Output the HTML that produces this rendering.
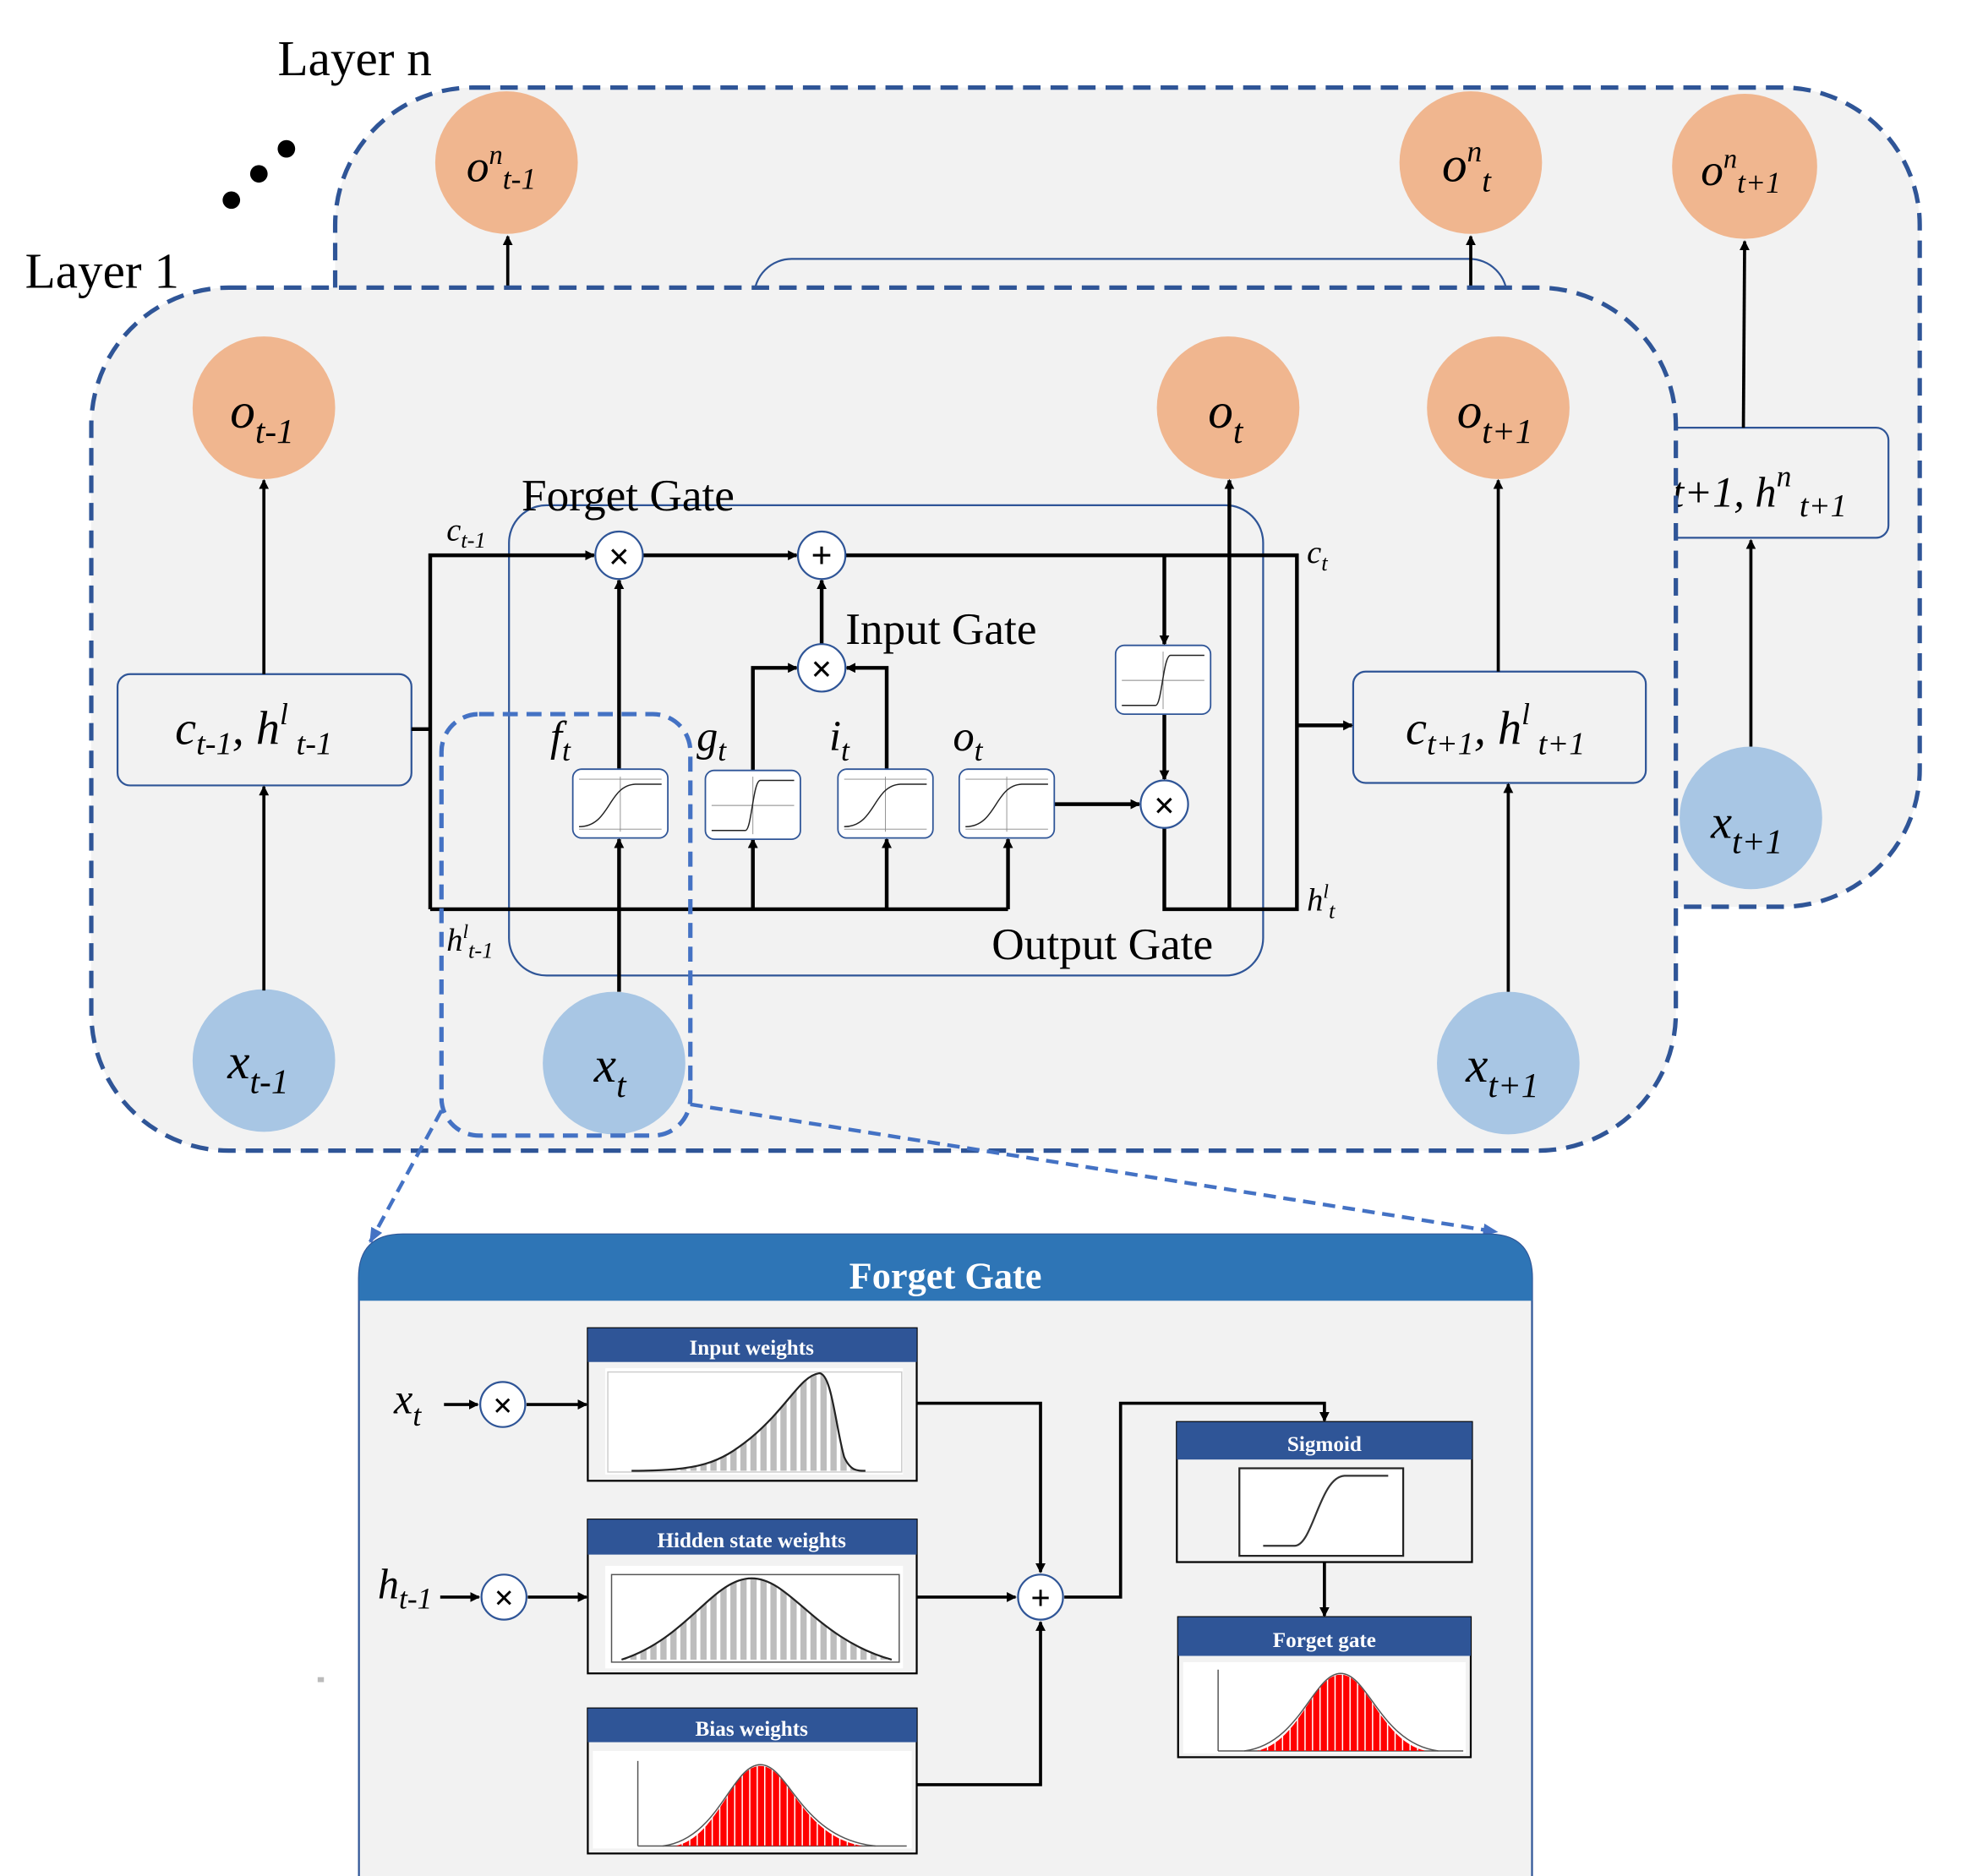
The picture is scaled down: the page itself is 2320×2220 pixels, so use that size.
<!DOCTYPE html>
<html><head><meta charset="utf-8"><style>
html,body{margin:0;padding:0;background:#fff;}
svg{display:block;}
text{font-family:"Liberation Serif",serif;}
.it{font-style:italic;}
</style></head><body>
<svg width="2320" height="2220" viewBox="0 0 1568 1500" preserveAspectRatio="none" xmlns="http://www.w3.org/2000/svg">
<defs>
<marker id="ar" markerWidth="8" markerHeight="8" refX="7" refY="4" orient="auto" markerUnits="userSpaceOnUse"><path d="M0,0 L8,4 L0,8 z" fill="#000"/></marker>
<marker id="arb" markerWidth="12" markerHeight="10" refX="11" refY="5" orient="auto" markerUnits="userSpaceOnUse"><path d="M0,0 L12,5 L0,10 z" fill="#4472c4"/></marker>
<pattern id="gbar" width="8" height="10" patternUnits="userSpaceOnUse"><rect width="5" height="10" fill="#bdbdbd"/></pattern>
<pattern id="rbar" width="6" height="10" patternUnits="userSpaceOnUse"><rect width="5" height="10" fill="#ff0000"/></pattern>
<g id="sig">
<rect x="0" y="0" width="76" height="55" rx="7" fill="#fff" stroke="#2f5597" stroke-width="1.2"/>
<line x1="5" y1="8" x2="71" y2="8" stroke="#888" stroke-width="0.6"/>
<line x1="5" y1="48" x2="71" y2="48" stroke="#888" stroke-width="0.6"/>
<line x1="38" y1="6" x2="38" y2="50" stroke="#888" stroke-width="0.6"/>
<path d="M5,46 C30,46 28,13 50,12 L71,12" fill="none" stroke="#222" stroke-width="1"/>
</g>
<g id="tanh">
<rect x="0" y="0" width="76" height="55" rx="7" fill="#fff" stroke="#2f5597" stroke-width="1.2"/>
<line x1="5" y1="28" x2="71" y2="28" stroke="#888" stroke-width="0.6"/>
<line x1="38" y1="5" x2="38" y2="51" stroke="#888" stroke-width="0.6"/>
<path d="M5,48 L32,48 C37,48 38,8 44,8 L71,8" fill="none" stroke="#222" stroke-width="1"/>
</g>
</defs>

<!-- Layer n -->
<text x="222" y="60" font-size="40">Layer n</text>
<circle cx="185" cy="160" r="7"/><circle cx="207" cy="139" r="7"/><circle cx="229" cy="119" r="7"/>
<rect x="268" y="70" width="1267" height="655" rx="110" fill="#f2f2f2" stroke="#2f5597" stroke-width="3.5" stroke-dasharray="14,8"/>
<rect x="603" y="207" width="602" height="300" rx="30" fill="none" stroke="#2f5597" stroke-width="1.5"/>
<rect x="1300" y="342" width="210" height="88" rx="10" fill="#f2f2f2" stroke="#2f5597" stroke-width="1.5"/>
<text x="1337" y="405" font-size="34" class="it">t+1, h<tspan font-size="24" dy="-16">n</tspan><tspan font-size="26" dy="24"> t+1</tspan></text>
<circle cx="405" cy="130" r="57" fill="#f0b68f"/>
<circle cx="1176" cy="130" r="57" fill="#f0b68f"/>
<circle cx="1395" cy="133" r="58" fill="#f0b68f"/>
<circle cx="1400" cy="654" r="57" fill="#a8c6e4"/>
<text x="373" y="145" font-size="36" class="it">o<tspan font-size="22" dy="-14">n</tspan><tspan font-size="24" dy="20">t-1</tspan></text>
<text x="1153" y="145" font-size="40" class="it">o<tspan font-size="24" dy="-16">n</tspan><tspan font-size="26" dy="24">t</tspan></text>
<text x="1360" y="148" font-size="36" class="it">o<tspan font-size="22" dy="-14">n</tspan><tspan font-size="24" dy="20">t+1</tspan></text>
<text x="1368" y="670" font-size="38" class="it">x<tspan font-size="28" dy="12">t+1</tspan></text>
<line x1="406" y1="232" x2="406" y2="189" stroke="#000" stroke-width="2.5" marker-end="url(#ar)"/>
<line x1="1176" y1="232" x2="1176" y2="189" stroke="#000" stroke-width="2.5" marker-end="url(#ar)"/>
<line x1="1394" y1="342" x2="1395" y2="193" stroke="#000" stroke-width="2.5" marker-end="url(#ar)"/>
<line x1="1400" y1="597" x2="1400" y2="432" stroke="#000" stroke-width="2.5" marker-end="url(#ar)"/>

<!-- Layer 1 -->
<text x="20" y="230" font-size="40">Layer 1</text>
<rect x="73" y="230" width="1267" height="690" rx="110" fill="#f2f2f2" stroke="#2f5597" stroke-width="3.5" stroke-dasharray="14,8"/>

<circle cx="211" cy="326" r="57" fill="#f0b68f"/>
<circle cx="982" cy="326" r="57" fill="#f0b68f"/>
<circle cx="1198" cy="326" r="57" fill="#f0b68f"/>
<circle cx="211" cy="848" r="57" fill="#a8c6e4"/>
<circle cx="491" cy="850" r="57" fill="#a8c6e4"/>
<circle cx="1206" cy="850" r="57" fill="#a8c6e4"/>
<text x="184" y="342" font-size="40" class="it">o<tspan font-size="28" dy="12">t-1</tspan></text>
<text x="966" y="342" font-size="40" class="it">o<tspan font-size="28" dy="12">t</tspan></text>
<text x="1165" y="342" font-size="40" class="it">o<tspan font-size="28" dy="12">t+1</tspan></text>
<text x="182" y="862" font-size="40" class="it">x<tspan font-size="28" dy="12">t-1</tspan></text>
<text x="475" y="865" font-size="40" class="it">x<tspan font-size="28" dy="12">t</tspan></text>
<text x="1172" y="865" font-size="40" class="it">x<tspan font-size="28" dy="12">t+1</tspan></text>

<rect x="94" y="539" width="235" height="89" rx="10" fill="#f2f2f2" stroke="#2f5597" stroke-width="1.5"/>
<rect x="1082" y="537" width="234" height="89" rx="10" fill="#f2f2f2" stroke="#2f5597" stroke-width="1.5"/>
<text x="140" y="595" font-size="38" class="it">c<tspan font-size="26" dy="8">t-1</tspan><tspan dy="-8">, h</tspan><tspan font-size="24" dy="-16">l</tspan><tspan font-size="26" dy="24"> t-1</tspan></text>
<text x="1124" y="595" font-size="38" class="it">c<tspan font-size="26" dy="8">t+1</tspan><tspan dy="-8">, h</tspan><tspan font-size="24" dy="-16">l</tspan><tspan font-size="26" dy="24"> t+1</tspan></text>

<line x1="211" y1="539" x2="211" y2="384" stroke="#000" stroke-width="2.5" marker-end="url(#ar)"/>
<line x1="211" y1="792" x2="211" y2="629" stroke="#000" stroke-width="2.5" marker-end="url(#ar)"/>
<line x1="1198" y1="537" x2="1198" y2="384" stroke="#000" stroke-width="2.5" marker-end="url(#ar)"/>
<line x1="1206" y1="793" x2="1206" y2="627" stroke="#000" stroke-width="2.5" marker-end="url(#ar)"/>

<!-- gate region -->
<rect x="407" y="404" width="603" height="376" rx="30" fill="none" stroke="#2f5597" stroke-width="1.5"/>
<text x="417" y="408" font-size="36">Forget Gate</text>
<text x="676" y="515" font-size="36">Input Gate</text>
<text x="793" y="767" font-size="36">Output Gate</text>

<g stroke="#000" stroke-width="3" fill="none">
<polyline points="329,583 344,583"/>
<polyline points="344,727 344,444 475,444" marker-end="url(#ar)"/>
<line x1="514" y1="444" x2="637" y2="444" marker-end="url(#ar)"/>
<polyline points="676,444 1037,444 1037,727 931,727 931,662"/>
<line x1="1037" y1="580" x2="1081" y2="580" marker-end="url(#ar)"/>
<polyline points="344,727 806,727"/>
<line x1="806" y1="727" x2="806" y2="671" marker-end="url(#ar)"/>
<line x1="709" y1="727" x2="709" y2="671" marker-end="url(#ar)"/>
<line x1="602" y1="727" x2="602" y2="671" marker-end="url(#ar)"/>
<line x1="495" y1="793" x2="495" y2="671" marker-end="url(#ar)"/>
<line x1="495" y1="615" x2="495" y2="464" marker-end="url(#ar)"/>
<polyline points="602,616 602,534 637,534" marker-end="url(#ar)"/>
<polyline points="709,615 709,534 677,534" marker-end="url(#ar)"/>
<line x1="657" y1="515" x2="657" y2="464" marker-end="url(#ar)"/>
<line x1="843" y1="643" x2="911" y2="643" marker-end="url(#ar)"/>
<line x1="931" y1="444" x2="931" y2="515" marker-end="url(#ar)"/>
<line x1="931" y1="570" x2="931" y2="623" marker-end="url(#ar)"/>
<line x1="983" y1="727" x2="983" y2="384" marker-end="url(#ar)"/>
</g>
<use href="#sig" x="458" y="615"/>
<use href="#tanh" x="564" y="616"/>
<use href="#sig" x="670" y="615"/>
<use href="#sig" x="767" y="615"/>
<use href="#tanh" x="892" y="516"/>
<g fill="#fff" stroke="#2f5597" stroke-width="1.5">
<circle cx="495" cy="444" r="19"/><circle cx="657" cy="444" r="19"/><circle cx="657" cy="534" r="19"/><circle cx="931" cy="643" r="19"/>
</g>
<g font-family="Liberation Sans,sans-serif" font-size="30" font-weight="bold" text-anchor="middle">
<text x="495" y="455">×</text><text x="657" y="454">+</text><text x="657" y="545">×</text><text x="931" y="654">×</text>
</g>
<text x="357" y="432" font-size="26" class="it">c<tspan font-size="18" dy="6">t-1</tspan></text>
<text x="1045" y="450" font-size="26" class="it">c<tspan font-size="18" dy="6">t</tspan></text>
<text x="1045" y="728" font-size="26" class="it">h<tspan font-size="16" dy="-10">l</tspan><tspan font-size="18" dy="16">t</tspan></text>
<text x="357" y="760" font-size="26" class="it">h<tspan font-size="16" dy="-10">l</tspan><tspan font-size="18" dy="16">t-1</tspan></text>
<text x="440" y="600" font-size="34" class="it">f<tspan font-size="24" dy="8">t</tspan></text>
<text x="557" y="600" font-size="34" class="it">g<tspan font-size="24" dy="8">t</tspan></text>
<text x="663" y="600" font-size="34" class="it">i<tspan font-size="24" dy="8">t</tspan></text>
<text x="762" y="600" font-size="34" class="it">o<tspan font-size="24" dy="8">t</tspan></text>

<!-- zoom dashed -->
<rect x="353" y="571" width="199" height="337" rx="30" fill="none" stroke="#4472c4" stroke-width="3.5" stroke-dasharray="12,7"/>
<line x1="353" y1="888" x2="296" y2="993" stroke="#4472c4" stroke-width="3" stroke-dasharray="10,6" marker-end="url(#arb)"/>
<line x1="552" y1="883" x2="1197" y2="985" stroke="#4472c4" stroke-width="3" stroke-dasharray="10,6" marker-end="url(#arb)"/>

<!-- Bottom panel -->
<path d="M287,1500 L287,1022 Q287,987 322,987 L1190,987 Q1225,987 1225,1022 L1225,1500" fill="#f2f2f2" stroke="#2f5597" stroke-width="1.5"/>
<path d="M287,1040 L287,1022 Q287,987 322,987 L1190,987 Q1225,987 1225,1022 L1225,1040 Z" fill="#2e75b6"/>
<text x="756" y="1030" font-size="30" font-weight="bold" fill="#fff" text-anchor="middle">Forget Gate</text>

<g stroke="#000" stroke-width="1.5">
<rect x="470" y="1062" width="263" height="122" fill="#f2f2f2"/>
<rect x="470" y="1215" width="263" height="123" fill="#f2f2f2"/>
<rect x="470" y="1366" width="263" height="116" fill="#f2f2f2"/>
<rect x="941" y="1137" width="236" height="112" fill="#f2f2f2"/>
<rect x="942" y="1293" width="234" height="112" fill="#f2f2f2"/>
</g>
<g fill="#2f5597">
<rect x="470" y="1062" width="263" height="27"/>
<rect x="470" y="1215" width="263" height="28"/>
<rect x="470" y="1366" width="263" height="27"/>
<rect x="941" y="1137" width="236" height="30"/>
<rect x="942" y="1293" width="234" height="31"/>
</g>
<g fill="#fff" font-size="17" font-weight="bold" text-anchor="middle">
<text x="601" y="1083">Input weights</text>
<text x="601" y="1237">Hidden state weights</text>
<text x="601" y="1388">Bias weights</text>
<text x="1059" y="1160">Sigmoid</text>
<text x="1059" y="1317">Forget gate</text>
</g>
<!-- charts -->
<rect x="484" y="1094" width="238" height="85" fill="#fff"/>
<rect x="486" y="1097" width="235" height="80" fill="none" stroke="#ccc" stroke-width="1"/>
<path d="M505,1176 C560,1176 575,1170 600,1150 C630,1125 640,1100 655,1098 C665,1098 668,1140 675,1165 C680,1176 685,1176 692,1176 Z" fill="url(#gbar)"/>
<path d="M505,1176 C560,1176 575,1170 600,1150 C630,1125 640,1100 655,1098 C665,1098 668,1140 675,1165 C680,1176 685,1176 692,1176" fill="none" stroke="#222" stroke-width="1.5"/>
<rect x="484" y="1252" width="238" height="82" fill="#fff"/>
<rect x="489" y="1259" width="230" height="70" fill="none" stroke="#555" stroke-width="1"/>
<path d="M497,1327 C550,1310 570,1262 601,1262 C632,1262 652,1310 713,1327 Z" fill="url(#gbar)"/>
<path d="M497,1327 C550,1310 570,1262 601,1262 C632,1262 652,1310 713,1327" fill="none" stroke="#222" stroke-width="1.5"/>
<rect x="474" y="1400" width="255" height="78" fill="#fff"/>
<line x1="510" y1="1408" x2="510" y2="1476" stroke="#555"/><line x1="510" y1="1476" x2="725" y2="1476" stroke="#555"/>
<path d="M540,1476 C575,1468 585,1412 608,1412 C631,1412 640,1468 690,1476 Z" fill="url(#rbar)"/>
<path d="M530,1476 C575,1470 585,1411 608,1411 C631,1411 640,1470 700,1476" fill="none" stroke="#555" stroke-width="1"/>
<rect x="991" y="1174" width="131" height="70" fill="#fff" stroke="#222" stroke-width="1.5"/>
<path d="M1010,1236 L1035,1236 C1050,1236 1055,1181 1075,1180 L1110,1180" fill="none" stroke="#333" stroke-width="1.5"/>
<rect x="946" y="1329" width="226" height="73" fill="#fff"/>
<line x1="974" y1="1335" x2="974" y2="1400" stroke="#555"/><line x1="974" y1="1400" x2="1170" y2="1400" stroke="#555"/>
<path d="M1005,1400 C1040,1392 1050,1339 1072,1339 C1094,1339 1104,1392 1140,1400 Z" fill="url(#rbar)"/>
<path d="M995,1400 C1040,1394 1050,1338 1072,1338 C1094,1338 1104,1394 1150,1400" fill="none" stroke="#555" stroke-width="1"/>

<!-- connectors -->
<g stroke="#000" stroke-width="2.5" fill="none">
<line x1="355" y1="1123" x2="382" y2="1123" marker-end="url(#ar)"/>
<line x1="421" y1="1123" x2="469" y2="1123" marker-end="url(#ar)"/>
<line x1="352" y1="1277" x2="383" y2="1277" marker-end="url(#ar)"/>
<line x1="422" y1="1277" x2="469" y2="1277" marker-end="url(#ar)"/>
<polyline points="733,1122 832,1122 832,1257" marker-end="url(#ar)"/>
<line x1="733" y1="1277" x2="812" y2="1277" marker-end="url(#ar)"/>
<polyline points="733,1427 832,1427 832,1297" marker-end="url(#ar)"/>
<polyline points="851,1277 896,1277 896,1122 1059,1122 1059,1136" marker-end="url(#ar)"/>
<line x1="1059" y1="1249" x2="1059" y2="1292" marker-end="url(#ar)"/>
</g>
<g fill="#fff" stroke="#2f5597" stroke-width="1.5">
<circle cx="402" cy="1123" r="18"/><circle cx="403" cy="1277" r="18"/><circle cx="832" cy="1277" r="18"/>
</g>
<g font-family="Liberation Sans,sans-serif" font-size="28" font-weight="bold" text-anchor="middle">
<text x="402" y="1133">×</text><text x="403" y="1287">×</text><text x="832" y="1287">+</text>
</g>
<text x="315" y="1130" font-size="34" class="it">x<tspan font-size="24" dy="10">t</tspan></text>
<text x="302" y="1278" font-size="34" class="it">h<tspan font-size="24" dy="8">t-1</tspan></text>
<rect x="254" y="1341" width="5" height="4" fill="#bbb"/>
</svg>
</body></html>
